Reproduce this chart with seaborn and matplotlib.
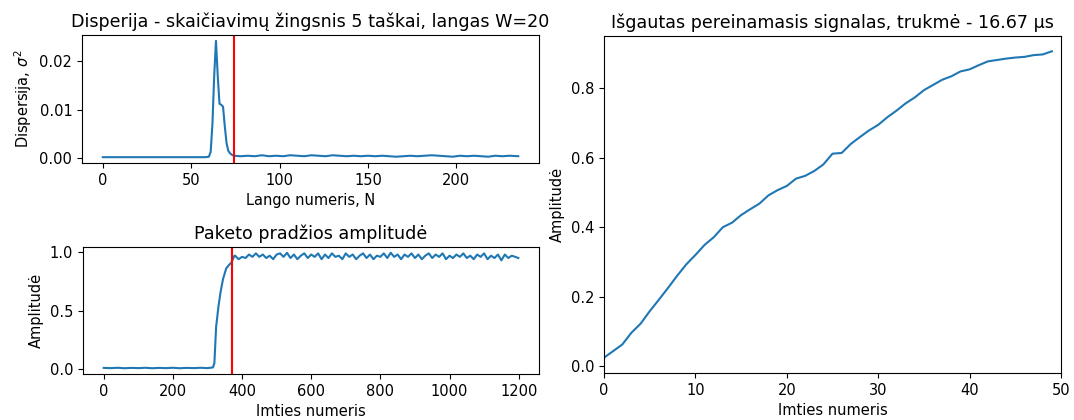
import matplotlib
matplotlib.use("Agg")
import matplotlib.pyplot as plt
import seaborn as sns

# --- Dispersion per window (step 5 samples, window W=20) ---
disp_n = [0, 10, 20, 30, 40, 50, 58, 60, 61, 62, 63, 64, 65, 66, 67, 68, 69, 70, 71, 72, 73,
          74, 78, 82, 86, 90, 94, 98, 102, 106, 110, 114, 118, 122, 126, 130, 134, 138,
          142, 146, 150, 154, 158, 162, 166, 170, 174, 178, 182, 186, 190, 194, 198, 202,
          206, 210, 214, 218, 222, 226, 230, 235]
disp_val = [0.0001, 0.0001, 0.0001, 0.0001, 0.0001, 0.0001, 0.0001, 0.0002, 0.0012, 0.0070,
            0.0170, 0.0243, 0.0170, 0.0112, 0.0110, 0.0106, 0.0065, 0.0030, 0.0014, 0.0009,
            0.0006, 0.0004, 0.0003, 0.0004, 0.0003, 0.0005, 0.0003, 0.0004, 0.0003, 0.0005,
            0.0004, 0.0003, 0.0005, 0.0004, 0.0003, 0.0005, 0.0004, 0.0003, 0.0004, 0.0003,
            0.0004, 0.0003, 0.0004, 0.0003, 0.0002, 0.0003, 0.0004, 0.0003, 0.0004, 0.0005,
            0.0004, 0.0003, 0.0002, 0.0004, 0.0003, 0.0004, 0.0003, 0.0002, 0.0004, 0.0003,
            0.0004, 0.0003]
disp_marker = 74

# --- Packet start amplitude ---
amp_n = [0, 20, 40, 60, 80, 100, 120, 140, 160, 180, 200, 220, 240, 260, 280, 300, 316,
         320, 325, 332, 338, 345, 354, 362, 369, 378,
         380, 390, 400, 410, 420, 430, 440, 450, 460, 470, 480, 490, 500, 510, 520, 530,
         540, 550, 560, 570, 580, 590, 600, 610, 620, 630, 640, 650, 660, 670, 680, 690,
         700, 710, 720, 730, 740, 750, 760, 770, 780, 790, 800, 810, 820, 830, 840, 850,
         860, 870, 880, 890, 900, 910, 920, 930, 940, 950, 960, 970, 980, 990, 1000, 1010,
         1020, 1030, 1040, 1050, 1060, 1070, 1080, 1090, 1100, 1110, 1120, 1130, 1140,
         1150, 1160, 1170, 1180, 1190, 1199]
amp_val = [0.008, 0.006, 0.009, 0.005, 0.008, 0.006, 0.009, 0.005, 0.008, 0.006, 0.009,
           0.005, 0.008, 0.006, 0.009, 0.006, 0.012,
           0.05, 0.36, 0.54, 0.66, 0.77, 0.86, 0.89, 0.91, 0.97,
           0.97, 0.94, 0.96, 0.95, 0.98, 0.96, 0.99, 0.96, 0.98, 0.95, 0.97, 0.94, 0.98,
           0.99, 0.96, 0.995, 0.95, 0.98, 0.94, 0.97, 0.99, 0.95, 0.98, 0.96, 0.99, 0.94,
           0.98, 0.95, 0.99, 0.96, 0.97, 0.94, 0.99, 0.96, 0.98, 0.94, 0.97, 0.99, 0.95,
           0.98, 0.94, 0.97, 0.96, 0.99, 0.95, 0.995, 0.96, 0.98, 0.94, 0.98, 0.96, 0.99,
           0.95, 0.98, 0.94, 0.97, 0.99, 0.95, 0.98, 0.96, 0.99, 0.94, 0.97, 0.95, 0.98,
           0.96, 0.99, 0.95, 0.97, 0.94, 0.98, 0.96, 0.99, 0.94, 0.97, 0.95, 0.98, 0.93,
           0.98, 0.95, 0.97, 0.96, 0.95]
amp_marker = 370

# --- Extracted transient signal (50 samples) ---
trans_n = list(range(50))
trans_val = [0.024, 0.043, 0.062, 0.096, 0.122, 0.158, 0.191, 0.225, 0.260, 0.293,
             0.320, 0.349, 0.371, 0.400, 0.413, 0.435, 0.452, 0.468, 0.492, 0.507,
             0.519, 0.540, 0.548, 0.562, 0.581, 0.612, 0.614, 0.640, 0.660, 0.679,
             0.695, 0.717, 0.736, 0.757, 0.774, 0.795, 0.810, 0.825, 0.835, 0.849,
             0.855, 0.867, 0.878, 0.882, 0.886, 0.889, 0.891, 0.896, 0.898, 0.907]

line_color = "#1f77b4"
plt.rcParams["font.size"] = 10.5

fig = plt.figure(figsize=(10.74, 4.2), dpi=100)
ax_disp = fig.add_axes([0.0764, 0.6119, 0.4255, 0.3048])
ax_amp = fig.add_axes([0.0773, 0.1095, 0.4246, 0.3024])
ax_tr = fig.add_axes([0.5624, 0.1119, 0.4255, 0.8024])

sns.lineplot(x=disp_n, y=disp_val, ax=ax_disp, color=line_color, linewidth=1.5)
ax_disp.axvline(disp_marker, color="red", linewidth=1.5)
ax_disp.set_xticks([0, 50, 100, 150, 200])
ax_disp.set_yticks([0.0, 0.01, 0.02])
ax_disp.set_title("Disperija - skaičiavimų žingsnis 5 taškai, langas W=20")
ax_disp.set_xlabel("Lango numeris, N")
ax_disp.set_ylabel(r"Dispersija, $\sigma^2$")

sns.lineplot(x=amp_n, y=amp_val, ax=ax_amp, color=line_color, linewidth=1.5)
ax_amp.axvline(amp_marker, color="red", linewidth=1.5)
ax_amp.set_xticks([0, 200, 400, 600, 800, 1000, 1200])
ax_amp.set_yticks([0.0, 0.5, 1.0])
ax_amp.set_title("Paketo pradžios amplitudė")
ax_amp.set_xlabel("Imties numeris")
ax_amp.set_ylabel("Amplitudė")

sns.lineplot(x=trans_n, y=trans_val, ax=ax_tr, color=line_color, linewidth=1.5)
ax_tr.set_xlim(0, 50)
ax_tr.set_xticks([0, 10, 20, 30, 40, 50])
ax_tr.set_yticks([0.0, 0.2, 0.4, 0.6, 0.8])
ax_tr.set_title("Išgautas pereinamasis signalas, trukmė - 16.67 µs")
ax_tr.set_xlabel("Imties numeris")
ax_tr.set_ylabel("Amplitudė")

fig.savefig("out.png", dpi=100)
